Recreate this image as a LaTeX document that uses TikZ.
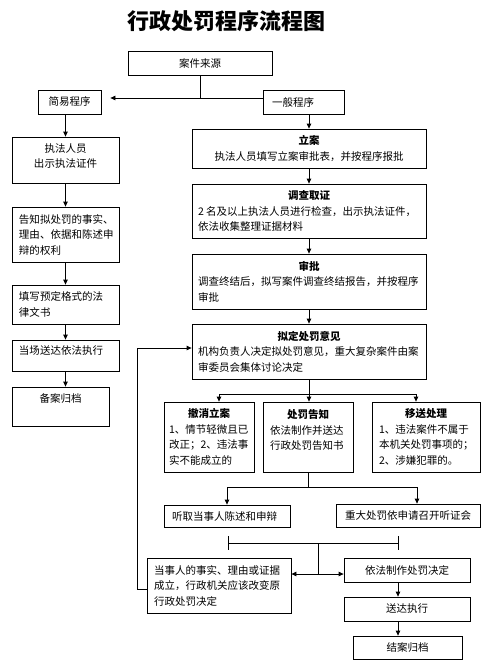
\documentclass[tikz,border=0pt]{standalone}
\usepackage{fontspec}
\setmainfont{Noto Sans CJK SC}
\usetikzlibrary{arrows.meta}
\tikzset{
  boxst/.style={draw, line width=0.8pt, inner sep=0pt, font=\fontsize{10.5pt}{15.5pt}\selectfont},
  ln/.style={draw, line width=0.8pt},
  arr/.style={draw, line width=0.8pt, -{Triangle[length=5pt,width=4.5pt]}},
}
% name, x1, y1, x2, y2, pad, content
\newcommand\mkbox[7]{\node[boxst, minimum width={(#4-#2)*1pt}, minimum height={(#5-#3)*1pt}] (#1) at ({(#2+#4)/2},{(#3+#5)/2}) {\parbox[c][\dimexpr#5pt-#3pt\relax][c]{\dimexpr#4pt-#2pt-#6pt-#6pt\relax}{#7}};}
\begin{document}
\begin{tikzpicture}[x=1pt,y=-1pt]
\fill[white] (0,0) rectangle (492,672);
\useasboundingbox (0,0) rectangle (492,672);
\node[font=\fontsize{22pt}{22pt}\selectfont\bfseries] (title) at (226.5,21) {行政处罚程序流程图};

\mkbox{src}{128}{51}{272}{75}{5}{\centering 案件来源}
\mkbox{jian}{38}{90}{101}{114}{3}{\centering 简易程序}
\mkbox{yiban}{263}{90}{344}{114}{9}{\raggedright 一般程序}

\mkbox{zf}{12}{137}{119}{183}{5}{\centering 执法人员\\出示执法证件\par\vspace{8pt}}
\mkbox{gz}{12}{207}{119}{262}{7}{\raggedright 告知拟处罚的事实、\\理由、依据和陈述申\\辩的权利}
\mkbox{tx}{12}{285}{119}{324}{7}{\raggedright 填写预定格式的法\\律文书}
\mkbox{dc}{12}{340}{119}{371}{7}{\raggedright 当场送达依法执行\par\vspace{9pt}}
\mkbox{ba}{12}{387}{109}{426}{5}{\centering 备案归档\par\vspace{17pt}}

\mkbox{la}{192}{129}{426}{168}{5}{\centering {\bfseries 立案}\\执法人员填写立案审批表，并按程序报批}
\mkbox{dq}{192}{184}{426}{238}{6}{{\centering\bfseries 调查取证\par}\raggedright 2~名及以上执法人员进行检查，出示执法证件，\\依法收集整理证据材料}
\mkbox{sp}{192}{254}{426}{309}{6}{{\centering\bfseries 审批\par}\raggedright 调查终结后，拟写案件调查终结报告，并按程序\\审批}
\mkbox{nd}{192}{324}{426}{379}{6}{{\centering\bfseries 拟定处罚意见\par}\raggedright 机构负责人决定拟处罚意见，重大复杂案件由案\\审委员会集体讨论决定}

\mkbox{cx}{164}{402}{254}{472}{5}{{\centering\bfseries 撤消立案\par}\raggedright 1、情节轻微且已\\改正；2、违法事\\实不能成立的}
\mkbox{cf}{263}{402}{353}{472}{7}{{\centering\bfseries 处罚告知\par}\raggedright 依法制作并送达\\行政处罚告知书\par\vspace{14pt}}
\mkbox{ys}{372}{402}{480}{472}{7}{{\centering\bfseries 移送处理\par}\raggedright 1、违法案件不属于\\本机关处罚事项的；\\2、涉嫌犯罪的。}

\mkbox{tq}{164}{505}{290}{527}{8}{\raggedright 听取当事人陈述和申辩}
\mkbox{zd}{336}{504}{480}{527}{5}{\centering 重大处罚依申请召开听证会}
\mkbox{dang}{147}{558}{291}{613}{7}{\raggedright 当事人的事实、理由或证据\\成立，行政机关应该改变原\\行政处罚决定}
\mkbox{yf}{344}{558}{470}{582}{5}{\centering 依法制作处罚决定}
\mkbox{sd}{344}{597}{470}{621}{5}{\centering 送达执行}
\mkbox{ja}{353}{636}{462}{659}{5}{\centering 结案归档}

% top split
\coordinate (j0) at (200,98);
\draw[ln] (src.south) -- (j0);
\draw[arr, shorten >=9pt] (yiban.west |- j0) -- (jian.east |- j0);
\draw[arr] (yiban.south -| la.north) -- (la.north);
% simple procedure column
\draw[arr] (jian.south -| zf.north) -- (zf.north);
\draw[arr] (zf.south) -- (gz.north);
\draw[arr] (gz.south) -- (tx.north);
\draw[arr] (tx.south) -- (dc.north);
\draw[arr] (dc.south) -- (dc.south |- ba.north);
% general procedure column
\draw[arr] (la.south) -- (dq.north);
\draw[arr] (dq.south) -- (sp.north);
\draw[arr] (sp.south) -- (nd.north);
% three-way split
\coordinate (j1) at (309,394);
\coordinate (j1l) at (219,394);
\coordinate (j1r) at (416,394);
\draw[ln] (nd.south) -- (j1);
\draw[ln] (j1l) -- (j1r);
\draw[arr] (j1l) -- (j1l |- cx.north);
\draw[arr] (j1) -- (j1 |- cf.north);
\draw[arr] (j1r) -- (j1r |- ys.north);
% two-way split
\coordinate (j2) at (308,487);
\coordinate (j2l) at (227,487);
\coordinate (j2r) at (417,487);
\draw[ln] (cf.south) -- (j2);
\draw[ln] (j2l) -- (j2r);
\draw[arr] (j2l) -- (j2l |- tq.north);
\draw[arr] (j2r) -- (j2r |- zd.north);
% bracket
\coordinate (b1) at (228,543);
\coordinate (b2) at (398,543);
\coordinate (b3) at (318,543);
\coordinate (j3) at (318,574);
\draw[ln] (228,536) -- (228,550);
\draw[ln] (398,536) -- (398,550);
\draw[ln] (b1) -- (b2);
\draw[ln] (b3) -- (j3);
\draw[arr] (j3) -- (dang.east |- j3);
\draw[arr] (j3) -- (yf.west |- j3);
% final column
\draw[arr] (b2 |- yf.south) -- (b2 |- sd.north);
\draw[arr] (b2 |- sd.south) -- (b2 |- ja.north);
% feedback
\coordinate (fbA) at (137,589);
\coordinate (fbB) at (137,348);
\draw[arr] (dang.west |- fbA) -- (fbA) -- (fbB) -- (nd.west |- fbB);
\end{tikzpicture}
\end{document}
